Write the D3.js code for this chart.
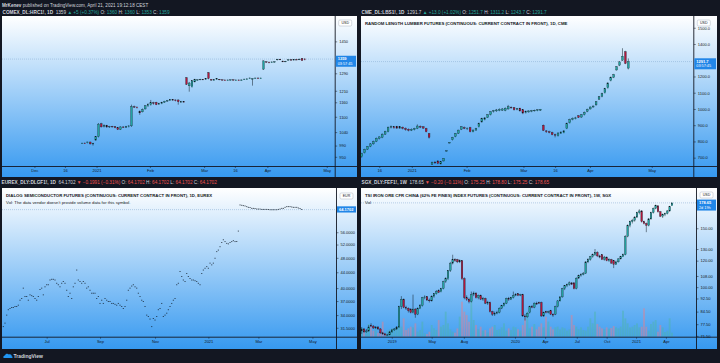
<!DOCTYPE html>
<html>
<head>
<meta charset="utf-8">
<script src="https://cdnjs.cloudflare.com/ajax/libs/d3/7.8.5/d3.min.js"></script>
<style>
  body { margin: 0; background: #131722; }
  svg { display: block; font-family: "Liberation Sans", Arial, sans-serif; }
</style>
</head>
<body>
<svg></svg>
<script>
// ---- data: COMEX HRC1! daily candles [open, high, low, close]
let hrcCandles = [
  [998,1000,996,999],[999,1001,997,998],[1000,1004,998,1003],[1003,1004,994,996],[996,1000,990,998],
  [1010,1025,1008,1023],[1023,1075,1020,1071],[1072,1076,1058,1060],[1062,1070,1058,1066],[1066,1068,1056,1060],
  [1060,1064,1056,1062],[1062,1064,1058,1061],[1061,1062,1055,1057],[1057,1060,1048,1050],[1050,1062,1048,1060],
  [1060,1062,1056,1058],[1058,1064,1056,1062],[1062,1066,1058,1064],[1064,1150,1060,1142],[1142,1146,1136,1140],
  [1140,1142,1134,1138],[1122,1126,1108,1116],[1120,1134,1118,1130],[1132,1148,1130,1145],[1145,1156,1140,1150],
  [1150,1170,1146,1158],[1158,1162,1150,1155],[1160,1162,1148,1150],[1152,1158,1150,1155],[1155,1162,1152,1160],
  [1160,1166,1158,1165],[1165,1170,1162,1168],[1168,1174,1166,1172],[1172,1174,1166,1170],[1170,1172,1164,1168],
  [1170,1172,1150,1162],[1162,1166,1158,1163],[1163,1164,1160,1162],[1269,1272,1236,1239],[1232,1250,1206,1245],
  [1228,1258,1224,1255],[1250,1264,1248,1262],[1260,1262,1256,1260],[1260,1264,1258,1262],[1262,1263,1258,1261],
  [1262,1268,1260,1265],[1293,1296,1262,1266],[1262,1263,1256,1258],[1258,1262,1256,1260],[1262,1266,1260,1265],
  [1262,1263,1258,1260],[1260,1261,1257,1259],[1259,1260,1257,1258],[1258,1260,1256,1259],[1259,1261,1257,1260],
  [1260,1261,1257,1258],[1258,1260,1256,1259],[1259,1260,1257,1258],[1258,1261,1256,1259],[1261,1264,1259,1263],
  [1262,1266,1260,1264],[1266,1270,1264,1268],[1265,1267,1233,1265],[1267,1269,1265,1268],[1268,1270,1266,1267],
  [1267,1269,1265,1268],[1310,1352,1306,1350],[1346,1348,1340,1344],[1344,1346,1338,1342],[1342,1346,1340,1345],
  [1345,1348,1342,1346],[1356,1360,1352,1358],[1358,1360,1354,1357],[1348,1352,1344,1346],[1346,1350,1344,1348],
  [1354,1358,1352,1356],[1356,1358,1352,1355],[1355,1358,1352,1357],[1357,1360,1354,1356],[1356,1362,1354,1358],
  [1362,1364,1350,1352],[1360,1360,1353,1359]
];
let hrcPriceTicks = [1450, 1290, 1210, 1160, 1100, 1040, 990, 950];
let hrcTimeLabels = ['Dec', '16', '2021', 'Feb', 'Mar', '16', 'Apr', 'May'];
let hrcTimeBars = [-17.3, -6.2, 5.3, 24.7, 44.4, 55.6, 67.4, 89];

// ---- data: CME lumber LBS1! daily candles
let lbsCandles = [
  [706,730,700,727],[730,755,726,752],[752,772,748,770],[770,790,765,785],[785,805,780,800],
  [800,824,796,820],[818,832,812,828],[825,850,820,845],[845,866,840,862],[860,892,856,888],
  [888,898,880,892],[890,894,878,885],[892,896,878,882],[882,894,878,890],[888,892,874,880],
  [880,886,866,872],[875,880,862,868],[868,880,864,875],[872,884,868,880],[880,905,876,895],
  [893,898,882,888],[890,894,878,882],[880,884,856,860],[848,852,818,825],[660,676,655,672],
  [672,680,662,668],[680,684,660,665],[662,678,658,675],[680,698,676,696],[740,746,738,743],
  [790,796,788,795],[810,828,806,825],[830,852,826,850],[850,872,846,870],[875,894,870,890],
  [885,892,876,880],[878,886,870,882],[885,890,856,860],[860,874,856,870],[870,884,866,880],
  [890,916,886,912],[920,946,916,942],[935,950,930,945],[948,968,944,965],[965,986,960,983],
  [985,994,978,990],[988,1000,982,994],[990,1004,986,998],[992,1006,988,1000],[990,1010,986,1005],
  [1000,1025,996,1014],[1010,1016,1002,1008],[1008,1012,990,995],[998,1006,992,1002],[1005,1008,984,988],
  [995,998,968,975],[978,990,972,985],[982,992,976,988],[985,994,980,990],[988,996,984,992],
  [990,998,986,995],[992,1000,988,998],[900,904,864,868],[865,870,852,860],[860,866,850,855],
  [855,860,838,842],[842,848,825,838],[835,856,830,852],[850,862,846,858],[855,870,850,865],
  [880,916,876,912],[915,940,910,935],[935,948,930,942],[940,952,936,945],[958,962,944,948],
  [950,968,946,965],[965,984,960,980],[985,1002,980,998],[1000,1016,996,1012],[1012,1022,1008,1018],
  [1025,1048,1020,1045],[1060,1080,1055,1075],[1078,1100,1072,1095],[1100,1130,1095,1125],[1130,1164,1125,1160],
  [1175,1200,1170,1195],[1195,1216,1190,1212],[1240,1264,1236,1260],[1270,1294,1264,1290],[1300,1374,1296,1325],
  [1352,1358,1276,1280],[1251.7,1311.2,1243.7,1291.7]
];
let lbsPriceTicks = [1500, 1400, 1200, 1100, 1000, 900, 800, 700];
let lbsTimeLabels = ['16', '2021', 'Feb', 'Mar', '16', 'Apr', 'May'];
let lbsTimeBars = [6, 17.1, 35.8, 55.2, 66, 77.9, 99];

// ---- data: EUREX DLGF1! daily closes (open = high = low = close)
let dlgCloses = [
  31.7,32.4,34.0,35.1,35.4,35.6,35.6,35.8,35.8,36.1,37.2,37.6,40.0,38.0,38.0,37.2,38.4,38.2,38.0,37.6,
  37.2,38.0,39.7,40.0,38.4,40.3,40.8,40.8,42.0,42.2,42.2,42.0,41.2,40.8,40.3,41.2,41.6,41.2,39.5,38.0,
  38.8,37.6,40.3,41.2,44.6,42.0,41.6,41.2,41.6,41.2,40.0,40.3,39.5,38.8,38.8,38.8,37.6,38.0,36.5,37.2,
  36.5,37.6,37.2,36.9,36.9,36.5,36.5,36.3,36.1,36.5,36.1,35.8,35.4,35.8,37.2,39.5,40.0,40.5,40.8,40.3,
  40.0,38.8,38.0,37.2,36.9,35.8,34.0,33.7,33.2,31.7,33.3,33.0,33.7,35.1,35.4,36.5,33.7,34.0,34.4,35.1,
  35.8,36.5,37.2,37.6,40.8,41.2,44.2,42.9,42.0,41.6,43.7,42.9,42.4,42.0,42.0,41.8,41.6,41.2,40.8,43.7,
  44.6,45.1,45.5,45.1,46.5,46.0,46.5,47.9,49.8,50.3,51.3,52.6,53.5,52.9,52.4,52.2,52.6,52.9,53.2,52.9,
  53.0,56.4,66.0,65.9,65.7,65.6,65.3,65.1,65.0,64.7,64.7,64.6,64.4,64.4,64.4,64.3,64.3,64.3,64.3,64.2,
  64.1,64.1,64.1,64.1,64.1,64.3,64.4,64.7,64.7,65.1,65.3,65.3,65.3,65.2,65.1,65.1,65.1,64.8,64.6,64.17
];
let dlgPriceTicks = [56, 52, 48, 44, 40, 37, 34, 31.5];
let dlgTimeLabels = ['Jul', 'Sep', 'Nov', '2021', 'Mar', 'May'];
let dlgTimeBars = [26, 58, 91, 123, 153, 185.4];

// ---- data: SGX FEF1! weekly candles and volume
let fefCandles = [
  [74,76,72.5,75],[75,75.5,73,73.5],[73.5,75,73,74],[74,77,73.5,76],[77,78,76,76.5],
  [76.5,77,75,75.5],[75.5,76.5,75,76],[76,76.5,74.5,75],[75,75.5,72.5,73],[73,73.5,72,72.5],
  [72.5,73,71.5,72],[72,72.5,71.5,72],[72,74,71.8,73.5],[73.5,75,73,74.5],[74.5,75.5,74,75],
  [75,76.5,74.5,76],[76,88,75.5,87.5],[87.5,94,86,92],[92,92.5,86.5,87],[87,88,85.5,86.5],
  [86.5,87,84,85],[86,86.5,83.5,84],[84,95,83.5,86],[86,86.5,81,83],[83,87,82.5,86.5],
  [86.5,89,86,88],[88,93.5,87.5,93],[93,94.5,92,93.5],[93.7,94,91,91.5],[91.5,92.5,90,91],
  [91,94.5,90.5,94],[94,96,93,95.5],[95.5,98,95,97],[97.5,98.5,96,96.5],[97,99.5,96.5,99],
  [99,104.5,98.5,104],[104,107,103,106],[106,112.5,105,112],[112,119,111,118],[118,125,117,121],
  [121,122,119,120],[121,121.5,118,119],[119,121,118,120],[120,120.5,105,106],[106,107,92,93],
  [93,94.5,91,92],[92,93,89.5,90.5],[90.5,97,90,95],[95,97,94,96],[96,96.5,92.5,93],
  [93,95,92,94.5],[94.5,95,91.5,92],[92,93.5,91,92.5],[92.5,93,89,89.5],[89.5,91,88.5,90],
  [90,90.5,84,84.5],[84.5,85,82,83],[83,84.5,82,83.5],[83.5,85,83,84],[84,87,83.5,86.5],
  [86.5,88.5,86,88],[88,90,87.5,89.5],[89.5,93,89,92.5],[92.5,93.5,91,92],[92,93.5,91.5,93],
  [93,97,92.5,94.5],[94.5,96,94,95],[95.5,96,94,94.5],[94.5,95.5,94,95],[95,95.5,81.5,82],
  [82,83,79.5,81.5],[81.5,84,81,83.6],[84,88,83.5,87.5],[87.5,88.5,86.5,87],[87,90,86.5,89.6],
  [89.6,90.5,88.5,89],[90,90.5,89,89.5],[90,90.5,81.5,82],[82,84.5,81.5,84],[84.5,85,83.5,84],
  [84,85,83.5,84.5],[85,85.5,82.5,83],[83,83.5,81.5,82.5],[83,88,82.5,87.5],[87.5,91.5,87,91],
  [91,94,90.5,93.5],[93.5,99.5,93,99],[99,101.5,98,101],[101,102.5,100,102],[102,104,101,103],
  [103,103.5,101.5,102],[103,103.5,98.5,99],[99,107,98.5,106.4],[106.4,109,106,108.5],[108.5,110,107.5,109],
  [109,111,108.5,110],[110,119.5,109.5,119],[119,122,118,121],[121,124,120,123.5],[123.5,126,122.5,125],
  [125,130,124,127],[127,128,123,124],[124,125,122,123],[125,125.5,120.5,121],[121,124,120,123],
  [123,123.5,119.5,120],[120,122,119,121],[121,121.5,117.5,118],[120,120.5,114,117],[117,120,116.5,119],
  [119,122,118.5,121.5],[121.5,124,121,123.4],[123.4,126,123,125],[125,143,124.5,142],[142,154,141,153],
  [153,158,151,157],[157,160,155,158.5],[158.5,163,157,162],[162,168,161,167],[167,171,165,169],
  [169,170,156,157],[157,158,154,155],[155,156,146,153],[153,161,152,160],[160,168,159,167],
  [167,173,166,172],[172,176.5,171,175.6],[175,176,167,168],[168,169,162,163],[163,166,161,165],
  [165,167,163,166],[166,170,165,169],[169,175,168,174],[175.25,178.8,175.25,178.65]
];
let fefVolume = [
  25,20,15,38,30,18,22,12,15,45,10,18,22,25,20,28,35,30,55,20,
  25,30,28,40,15,20,45,10,8,15,35,25,20,50,30,35,75,40,22,15,
  12,25,60,105,75,65,45,105,50,35,22,30,18,20,12,25,30,35,20,22,
  28,40,18,25,20,30,28,22,18,35,55,75,25,30,38,22,30,40,28,60,
  45,30,22,28,30,22,28,25,18,22,65,35,30,22,28,20,18,30,55,40,
  75,38,30,25,22,28,24,26,32,28,25,30,78,55,40,28,30,35,40,28,
  30,85,30,18,38,45,50,15,35,28,14,18,55,12
];
let fefPriceTicks = [150, 130, 120, 108, 100, 92.5, 84.5, 77.5, 71.5];
let fefTimeLabels = ['2019', 'May', 'Aug', '2020', 'Apr', 'Jul', 'Oct', '2021', 'Apr'];
let fefTimeBars = [12.9, 30, 43.8, 65.7, 78.6, 92.2, 105, 117.6, 130.4];

// ---- colours
let upColor = '#22a3a0';
let downColor = '#b3173c';
let wickColor = '#0d1822';
let textUp = '#26a69a';
let textDown = '#ef5350';
let white = '#d1d4dc';

let width = 720;
let height = 363;
let svg = d3.select('svg').attr('width', width).attr('height', height);
let defs = svg.append('defs');

let grad = defs.append('linearGradient').attr('id', 'bg')
  .attr('x1', 0).attr('y1', 0).attr('x2', 0).attr('y2', 1);
grad.append('stop').attr('offset', '0%').attr('stop-color', '#ffffff');
grad.append('stop').attr('offset', '100%').attr('stop-color', '#3699f0');

// one TradingView-like pane with price and time axes
let drawPanel = (p) => {
  let g = svg.append('g').attr('transform', `translate(${p.left},${p.top})`);
  g.append('rect').attr('width', p.width).attr('height', p.height).attr('fill', 'url(#bg)');

  defs.append('clipPath').attr('id', p.id + '-clip')
    .append('rect').attr('width', p.axisX).attr('height', p.plotBottom);
  let plot = g.append('g').attr('clip-path', `url(#${p.id}-clip)`);

  // last price line
  plot.append('line')
    .attr('x1', 0).attr('x2', p.axisX)
    .attr('y1', p.y(p.last)).attr('y2', p.y(p.last))
    .attr('stroke', '#8fb3d6').attr('stroke-width', 0.6).attr('stroke-dasharray', '1,1');

  // separators
  g.append('line').attr('x1', 0).attr('x2', p.width)
    .attr('y1', p.plotBottom + 0.5).attr('y2', p.plotBottom + 0.5)
    .attr('stroke', '#131722').attr('stroke-width', 0.9);
  g.append('line').attr('x1', p.axisX + 0.5).attr('x2', p.axisX + 0.5)
    .attr('y1', 0).attr('y2', p.height)
    .attr('stroke', '#131722').attr('stroke-width', 0.9);

  // price axis
  let yAxis = d3.axisRight(p.y).tickValues(p.priceTicks).tickSize(2).tickPadding(2).tickFormat(p.fmt);
  let ya = g.append('g').attr('transform', `translate(${p.axisX + 0.5},0)`).call(yAxis);
  ya.select('.domain').remove();
  ya.selectAll('line').attr('stroke', '#131722').attr('stroke-width', 0.5);
  ya.selectAll('text').attr('font-size', 4).attr('fill', '#131722').attr('font-family', null);

  // time axis
  let xAxis = d3.axisBottom(p.x).tickValues(p.timeBars).tickSize(1.5).tickPadding(1.5)
    .tickFormat((d, i) => p.timeLabels[i]);
  let xa = g.append('g').attr('transform', `translate(0,${p.plotBottom + 0.5})`).call(xAxis);
  xa.select('.domain').remove();
  xa.selectAll('line').attr('stroke', '#131722').attr('stroke-width', 0.5);
  xa.selectAll('text').attr('font-size', 4).attr('fill', '#131722').attr('font-family', null);

  // currency box
  let cb = g.append('g').attr('transform', `translate(${p.axisX + 4},${p.currencyY})`);
  cb.append('rect').attr('width', 13).attr('height', 6).attr('rx', 1.2)
    .attr('fill', '#ffffff').attr('stroke', '#9aa3b0').attr('stroke-width', 0.4);
  cb.append('text').attr('x', 6.5).attr('y', 4.3).attr('text-anchor', 'middle')
    .attr('font-size', 3.6).attr('fill', '#131722').text(p.currency);

  // last price label
  let ly = p.y(p.last);
  let lb = g.append('g').attr('transform', `translate(${p.axisX + 1},${ly - 3.3})`);
  lb.append('rect').attr('width', p.width - p.axisX - 2).attr('height', p.countdown ? 11 : 6.2)
    .attr('fill', '#2186e8');
  lb.append('text').attr('x', 2).attr('y', 4.6).attr('font-size', 4).attr('fill', '#ffffff')
    .attr('font-weight', 'bold').text(p.fmt(p.last));
  if (p.countdown) {
    lb.append('text').attr('x', 2).attr('y', 9.2).attr('font-size', 3.8).attr('fill', '#ffffff')
      .text(p.countdown);
  }
  return { g, plot };
};

let drawCandles = (plot, data, x, y, bw) => {
  let c = plot.selectAll('g.candle').data(data).enter().append('g').attr('class', 'candle');
  c.append('line')
    .attr('x1', (d, i) => x(i)).attr('x2', (d, i) => x(i))
    .attr('y1', d => y(d[1])).attr('y2', d => y(d[2]))
    .attr('stroke', wickColor).attr('stroke-width', 0.5);
  c.append('rect')
    .attr('x', (d, i) => x(i) - bw / 2)
    .attr('y', d => y(Math.max(d[0], d[3])))
    .attr('width', bw)
    .attr('height', d => Math.max(0.6, Math.abs(y(d[0]) - y(d[3]))))
    .attr('fill', d => d[3] >= d[0] ? upColor : downColor)
    .attr('stroke', wickColor).attr('stroke-width', 0.3);
};

let header = (x, y, parts, size) => {
  let t = svg.append('text').attr('x', x).attr('y', y).attr('font-size', size || 4.7)
    .style('white-space', 'pre');
  parts.forEach(p => t.append('tspan').attr('fill', p[1]).attr('font-weight', p[2] || 'normal').text(p[0]));
};

let paneTitle = (g, lines) => {
  lines.forEach((l, i) => {
    g.append('text').attr('x', 4).attr('y', 8.8 + i * 7.3).attr('font-size', 4.3)
      .attr('font-weight', i === 0 && l.bold ? 'bold' : 'normal')
      .attr('fill', '#131722').text(l.text);
  });
};

// ---- top strip
header(2, 6.8, [['MrKenev', white, 'bold'], [' published on TradingView.com, April 21, 2021 19:12:18 CEST', white]], 4.6);

// ---- panel 1: HRC
let hrcX = d3.scaleLinear().domain([0, 81]).range([80, 80 + 2.75 * 81]);
let hrcY = d3.scaleLog().domain([918.6, 1591.2]).range([150, 0]);
let p1 = drawPanel({
  id: 'hrc', left: 2, top: 16, width: 355, height: 161, axisX: 332.7, plotBottom: 150,
  x: hrcX, y: hrcY, priceTicks: hrcPriceTicks, timeBars: hrcTimeBars, timeLabels: hrcTimeLabels,
  fmt: d3.format('d'), last: 1359, countdown: '03:57:45', currency: 'USD', currencyY: 4
});
drawCandles(p1.plot, hrcCandles, hrcX, hrcY, 1.7);
header(2.5, 13.8, [
  ['COMEX_DL:HRC1!, 1D  ', white, 'bold'], ['1359 ', white], ['▲ +5 (+0.37%) ', textUp],
  ['O: ', white], ['1360 ', textUp], ['H: ', white], ['1360 ', textUp],
  ['L: ', white], ['1353 ', textUp], ['C: ', white], ['1359', textUp]
]);

// ---- panel 2: Lumber
let lbsX = d3.scaleLinear().domain([0, 91]).range([0.7, 0.7 + 2.93 * 91]);
let lbsY = d3.scaleLinear().domain([648.8, 1572.4]).range([150, 0]);
let p2 = drawPanel({
  id: 'lbs', left: 361, top: 16, width: 356, height: 161, axisX: 332.3, plotBottom: 150,
  x: lbsX, y: lbsY, priceTicks: lbsPriceTicks, timeBars: lbsTimeBars, timeLabels: lbsTimeLabels,
  fmt: d3.format('.1f'), last: 1291.7, countdown: '03:57:45', currency: 'USD', currencyY: 4
});
drawCandles(p2.plot, lbsCandles, lbsX, lbsY, 1.8);
paneTitle(p2.g, [{ text: 'RANDOM LENGTH LUMBER FUTURES (CONTINUOUS: CURRENT CONTRACT IN FRONT), 1D, CME', bold: true }]);
header(361.5, 13.8, [
  ['CME_DL:LBS1!, 1D  ', white, 'bold'], ['1291.7 ', white], ['▲ +13.0 (+1.02%) ', textUp],
  ['O: ', white], ['1251.7 ', textUp], ['H: ', white], ['1311.2 ', textUp],
  ['L: ', white], ['1243.7 ', textUp], ['C: ', white], ['1291.7', textUp]
]);

// ---- panel 3: Dialog
let dlgX = d3.scaleLinear().domain([0, 179]).range([1.33, 1.33 + 1.667 * 179]);
let dlgY = d3.scaleLog().domain([29.85, 73.1]).range([148.7, 0]);
let p3 = drawPanel({
  id: 'dlg', left: 2, top: 188, width: 355, height: 161, axisX: 334, plotBottom: 148.7,
  x: dlgX, y: dlgY, priceTicks: dlgPriceTicks, timeBars: dlgTimeBars, timeLabels: dlgTimeLabels,
  fmt: d3.format('.4f'), last: 64.1702, countdown: null, currency: 'EUR', currencyY: 5
});
p3.plot.selectAll('rect.dash').data(dlgCloses).enter().append('rect').attr('class', 'dash')
  .attr('x', (d, i) => dlgX(i) - 0.6).attr('y', d => dlgY(d) - 0.35)
  .attr('width', 1.2).attr('height', 0.7).attr('fill', '#0f1a26');
paneTitle(p3.g, [
  { text: 'DIALOG SEMICONDUCTOR FUTURES (CONTINUOUS: CURRENT CONTRACT IN FRONT), 1D, EUREX', bold: true },
  { text: "Vol: The data vendor doesn't provide volume data for this symbol." }
]);
header(1.5, 183.5, [
  ['EUREX_DLY:DLGF1!, 1D  ', white, 'bold'], ['64.1702 ', white], ['▼ −0.1991 (−0.31%) ', textDown],
  ['O: ', white], ['64.1702 ', textDown], ['H: ', white], ['64.1702 ', textDown],
  ['L: ', white], ['64.1702 ', textDown], ['C: ', white], ['64.1702', textDown]
]);

// ---- panel 4: Iron ore
let fefX = d3.scaleLinear().domain([0, 133]).range([0.7, 0.7 + 2.333 * 133]);
let fefY = d3.scaleLog().domain([71.1, 197.9]).range([148.7, 0]);
let fefV = d3.scaleLinear().domain([0, 300]).range([148.7, 48.7]);
let p4 = drawPanel({
  id: 'fef', left: 361, top: 188, width: 356, height: 161, axisX: 335, plotBottom: 148.7,
  x: fefX, y: fefY, priceTicks: fefPriceTicks, timeBars: fefTimeBars, timeLabels: fefTimeLabels,
  fmt: d3.format('.2f'), last: 178.65, countdown: '2d 19h', currency: 'USD', currencyY: 4
});
p4.plot.selectAll('rect.vol').data(fefVolume).enter().append('rect').attr('class', 'vol')
  .attr('x', (d, i) => fefX(i) - 0.9).attr('y', d => fefV(d))
  .attr('width', 1.8).attr('height', d => fefV(0) - fefV(d))
  .attr('fill', (d, i) => fefCandles[i][3] >= fefCandles[i][0] ? '#4db6aa' : '#e58090')
  .attr('opacity', 0.5);
drawCandles(p4.plot, fefCandles, fefX, fefY, 1.6);
paneTitle(p4.g, [
  { text: 'TSI IRON ORE CFR CHINA (62% FE FINES) INDEX FUTURES (CONTINUOUS: CURRENT CONTRACT IN FRONT), 1W, SGX', bold: true },
  { text: 'Vol' }
]);
header(361.5, 183.5, [
  ['SGX_DLY:FEF1!, 1W  ', white, 'bold'], ['178.65 ', white], ['▼ −0.20 (−0.11%) ', textDown],
  ['O: ', white], ['175.25 ', textDown], ['H: ', white], ['178.80 ', textDown],
  ['L: ', white], ['175.25 ', textDown], ['C: ', white], ['178.65', textDown]
]);

// ---- footer logo
let logo = svg.append('g').attr('transform', 'translate(3,352)');
logo.append('path')
  .attr('d', 'M1,6 C0,6 0,3.5 2,3.5 C2.2,1.5 5,1 5.8,2.6 C7,1.8 9,2.6 8.6,4.2 C10,4.3 10,6 8.8,6 Z')
  .attr('fill', '#2196f3');
logo.append('text').attr('x', 10.5).attr('y', 5.8).attr('font-size', 5).attr('fill', white)
  .attr('font-weight', 'bold').text('TradingView');
</script>
</body>
</html>
